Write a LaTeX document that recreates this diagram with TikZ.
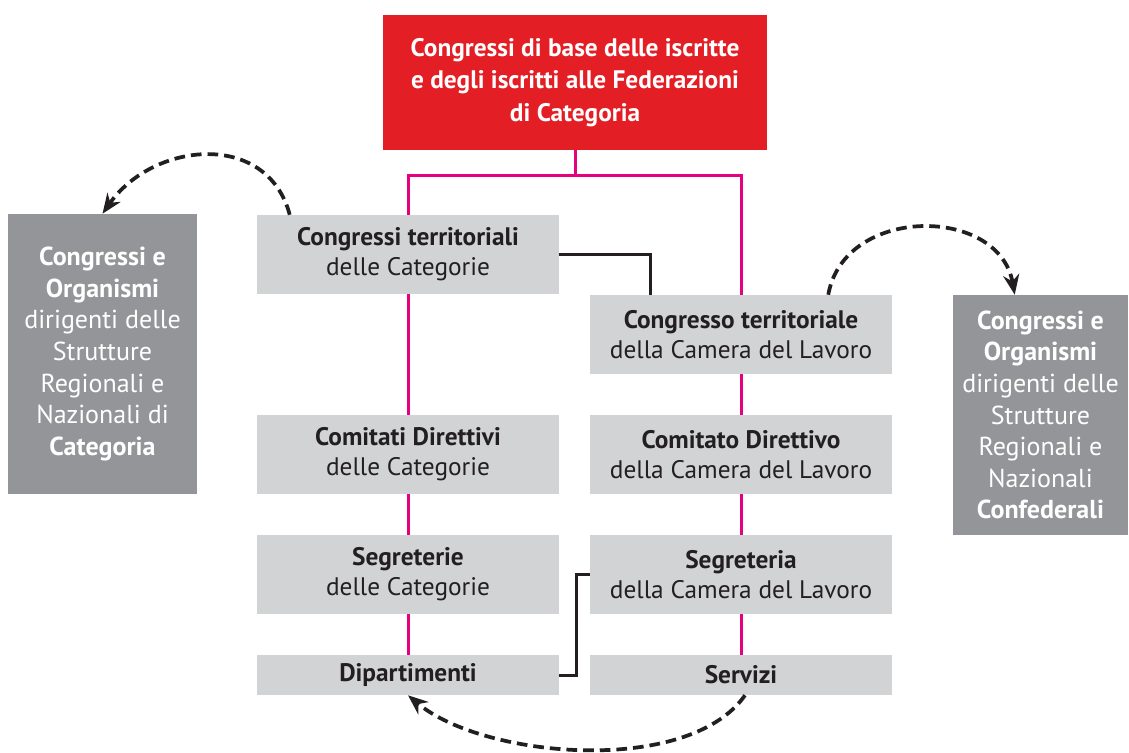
\documentclass[tikz,border=0pt]{standalone}
\usepackage{fontspec}
\setmainfont{PT Sans}
\usetikzlibrary{arrows.meta,calc,backgrounds}

\definecolor{topred}{HTML}{E31E24}
\definecolor{boxgray}{HTML}{D1D3D4}
\definecolor{sidegray}{HTML}{939598}
\definecolor{trunkpink}{HTML}{E6007E}
\definecolor{inktext}{HTML}{231F20}

\begin{document}
\begin{tikzpicture}[x=0.75pt,y=0.75pt,
    organ/.style={fill=boxgray, text=inktext, align=center, inner sep=0pt,
        minimum width=226.5pt, minimum height=59.25pt,
        font=\fontsize{19}{22.5}\selectfont},
    lowbox/.style={organ, minimum height=30pt},
    sidebox/.style={fill=sidegray, text=white, align=center, inner sep=0pt,
        font=\fontsize{19.5}{23.7}\selectfont},
    trunk/.style={draw=trunkpink, line width=2.25pt},
    link/.style={draw=inktext, line width=2.25pt},
    flow/.style={draw=inktext, line width=2.8pt, dash pattern=on 8pt off 4.5pt,
        -{Stealth[length=15pt,width=12pt]}}]

    \useasboundingbox (0,0) rectangle (1129,-753);
    \begin{scope}[on background layer]
        \fill[white] (0,0) rectangle (1129,-753);
    \end{scope}

    % top
    \node[fill=topred, text=white, align=center, inner sep=0pt,
        minimum width=288pt, minimum height=101.25pt,
        font=\bfseries\fontsize{19}{24.4}\selectfont] (base) at (575,-82.5)
        {Congressi di base delle iscritte\\e degli iscritti alle Federazioni\\di Categoria};

    % categorie
    \node[organ] (ctl) at (408,-254.5) {\textbf{Congressi territoriali}\\delle Categorie};
    \node[organ] (cdc) at (408,-454.5) {\textbf{Comitati Direttivi}\\delle Categorie};
    \node[organ] (sgc) at (408,-574.5) {\textbf{Segreterie}\\delle Categorie};
    \node[lowbox] (dip) at (408,-675) {\textbf{Dipartimenti}};

    % camera del lavoro
    \node[organ] (ctc) at (741,-334.5) {\textbf{Congresso territoriale}\\della Camera del Lavoro};
    \node[organ] (cdl) at (741,-454.5) {\textbf{Comitato Direttivo}\\della Camera del Lavoro};
    \node[organ] (sgl) at (741,-574.5) {\textbf{Segreteria}\\della Camera del Lavoro};
    \node[lowbox] (srv) at (741,-675) {\textbf{Servizi}};

    % strutture
    \node[sidebox, minimum width=141.75pt, minimum height=210pt] (lft) at (102.5,-354)
        {\textbf{Congressi e}\\\textbf{Organismi}\\dirigenti delle\\Strutture\\Regionali e\\Nazionali di\\\textbf{Categoria}};
    \node[sidebox, minimum width=131.25pt, minimum height=180pt] (rgt) at (1040.5,-415)
        {\textbf{Congressi e}\\\textbf{Organismi}\\dirigenti delle\\Strutture\\Regionali e\\Nazionali\\\textbf{Confederali}};

    \begin{scope}[on background layer]
        \coordinate (fork) at ($(base.south)+(0,-25)$);
        \draw[trunk] (base.south) -- (fork);
        \draw[trunk] (dip.north) -- (dip.north |- fork) -- (srv.north |- fork) -- (srv.north);
    \end{scope}

    \draw[link] (ctl.east) -| ($(ctc.north west)+(61,0)$);
    \draw[link] (dip.east) -- ++(17,0) |- (sgl.west);

    \draw[flow] ($(ctl.north west)+(33,0)$) to[out=105,in=55,looseness=1.2] (lft.north);
    \draw[flow] ($(ctc.north east)+(-64,0)$) to[out=80,in=100,looseness=1.25] ($(rgt.north west)+(62,0)$);
    \draw[flow] ($(srv.south)+(4,0)$) to[out=-125,in=-40,looseness=0.75] (dip.south);
\end{tikzpicture}
\end{document}
